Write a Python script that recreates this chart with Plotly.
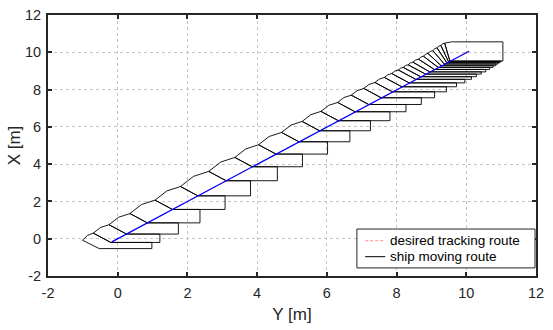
import plotly.graph_objects as go

# ---- data (horizontal axis = Y [m], vertical axis = X [m]) ----
# deck reference point of each ship frame (first entry = initial frame)
frame_Y = [-0.53, -0.20, 0.25, 0.85, 1.57, 2.30, 3.11, 3.86, 4.54, 5.20, 5.79, 6.33,
           6.81, 7.20, 7.56, 7.88, 8.15, 8.36, 8.55, 8.69, 8.83, 8.95, 9.08, 9.19,
           9.28, 9.37, 9.44, 9.49, 9.53, 10.20]
frame_X = [-0.53, -0.20, 0.25, 0.85, 1.57, 2.30, 3.11, 3.86, 4.54, 5.20, 5.79, 6.33,
           6.81, 7.20, 7.56, 7.88, 8.15, 8.36, 8.55, 8.69, 8.83, 8.95, 9.08, 9.19,
           9.28, 9.37, 9.44, 9.49, 9.53, 10.56]
# bow-top point offset from deck point
bow_dY = [-0.48, -0.50, -0.50, -0.50, -0.50, -0.50, -0.50, -0.50, -0.50, -0.50, -0.50, -0.50,
          -0.50, -0.50, -0.50, -0.50, -0.50, -0.50, -0.50, -0.50, -0.50, -0.48, -0.45, -0.42,
          -0.38, -0.33, -0.28, -0.22, -0.15, -0.63]
bow_dX = [0.45, 0.50, 0.50, 0.50, 0.50, 0.50, 0.50, 0.50, 0.50, 0.50, 0.50, 0.50,
          0.50, 0.50, 0.50, 0.50, 0.50, 0.50, 0.50, 0.50, 0.50, 0.52, 0.55, 0.60,
          0.66, 0.72, 0.80, 0.88, 0.96, 0.00]
# stern position (Y) of each frame after the initial one
stern_Y = [0.98, 1.21, 1.74, 2.36, 3.08, 3.81, 4.58, 5.30, 6.02, 6.66, 7.25, 7.81,
           8.27, 8.71, 9.09, 9.43, 9.72, 9.96, 10.15, 10.29, 10.43, 10.56, 10.67, 10.77,
           10.85, 10.91, 10.96, 11.00, 11.05]

route_Y = [-0.17, 10.08]
route_X = [-0.17, 10.06]

tick_vals = [-2, 0, 2, 4, 6, 8, 10, 12]
tick_text = ["-2", "0", "2", "4", "6", "8", "10", "12"]
legend_names = ["desired tracking route", "ship moving route"]

# ---- build ship outlines ----
sx, sy = [], []
for j in range(1, len(frame_Y)):
    u0 = (frame_Y[j-1] + bow_dY[j-1], frame_X[j-1] + bow_dX[j-1])
    u1 = (frame_Y[j] + bow_dY[j], frame_X[j] + bow_dX[j])
    v = (u0[0] + 0.46 * (u1[0] - u0[0]), u0[1] + 0.67 * (u1[1] - u0[1]))
    pts = [u0, v, u1,
           (frame_Y[j], frame_X[j]),
           (stern_Y[j-1], frame_X[j]),
           (stern_Y[j-1], frame_X[j-1]),
           (frame_Y[j-1], frame_X[j-1]),
           u0]
    for p in pts:
        sx.append(p[0]); sy.append(p[1])
    sx.append(None); sy.append(None)

red = "#ff8c8c"
fig = go.Figure()
fig.add_trace(go.Scatter(x=route_Y, y=route_X, mode="lines",
                         line=dict(color=red, width=1, dash="dash"),
                         name=legend_names[0], showlegend=False))
fig.add_trace(go.Scatter(x=sx, y=sy, mode="lines",
                         line=dict(color="black", width=0.9),
                         name=legend_names[1], showlegend=False))
fig.add_trace(go.Scatter(x=route_Y, y=route_X, mode="lines",
                         line=dict(color="#0000ff", width=1.2),
                         showlegend=False))

font_family = "Liberation Sans, Arial, sans-serif"
axis_common = dict(range=[-2, 12], tickvals=tick_vals, ticktext=tick_text, showgrid=True,
                   gridcolor="#c4c4c4", griddash="dot", gridwidth=1,
                   zeroline=False, showline=True, linecolor="#262626", linewidth=2,
                   mirror="ticks", ticks="inside", ticklen=4, tickwidth=1.5,
                   tickcolor="#262626",
                   tickfont=dict(family=font_family, size=14.5, color="#262626"))

# ---- legend box (drawn in paper coordinates) ----
lg_x0, lg_x1, lg_y0, lg_y1 = 0.633, 0.998, 0.031, 0.180
row_y = [0.135, 0.074]
sample_x = [0.650, 0.691]
shapes = [dict(type="rect", xref="paper", yref="paper", x0=lg_x0, x1=lg_x1, y0=lg_y0, y1=lg_y1,
               line=dict(color="#262626", width=1), fillcolor="white", layer="above")]
shapes.append(dict(type="line", xref="paper", yref="paper", x0=sample_x[0], x1=sample_x[1],
                   y0=row_y[0], y1=row_y[0], line=dict(color=red, width=1, dash="3px,2px"),
                   layer="above"))
shapes.append(dict(type="line", xref="paper", yref="paper", x0=sample_x[0], x1=sample_x[1],
                   y0=row_y[1], y1=row_y[1], line=dict(color="black", width=1),
                   layer="above"))
annotations = [dict(xref="paper", yref="paper", x=0.697, y=row_y[k], text=legend_names[k],
                    showarrow=False, xanchor="left", yanchor="middle",
                    font=dict(family=font_family, size=13.5, color="black"))
               for k in range(2)]

fig.update_layout(
    width=553, height=330,
    margin=dict(l=48, r=17, t=15, b=54, autoexpand=False),
    paper_bgcolor="white", plot_bgcolor="white",
    font=dict(family=font_family, color="#262626"),
    showlegend=False,
    xaxis=dict(**axis_common, ticklabelstandoff=3,
               title=dict(text="Y [m]", font=dict(size=17, color="#262626"), standoff=8)),
    yaxis=dict(**axis_common, ticklabelstandoff=2,
               title=dict(text="X [m]", font=dict(size=17, color="#262626"), standoff=0)),
    shapes=shapes,
    annotations=annotations,
)

fig.write_html("out.html")
